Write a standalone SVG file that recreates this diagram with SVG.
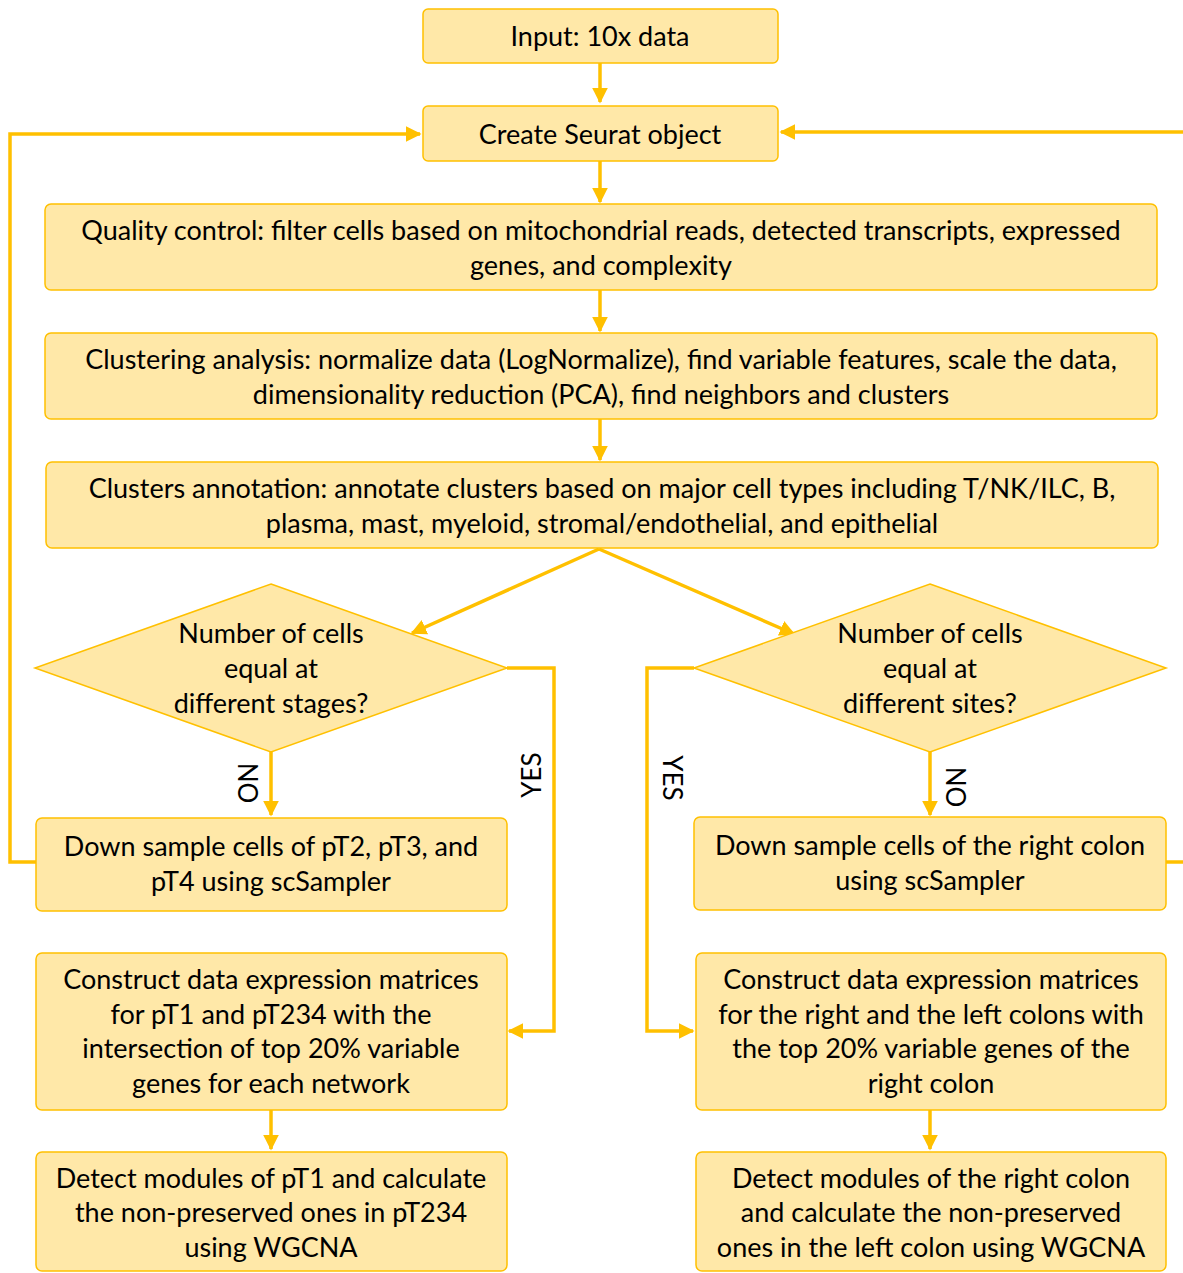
<svg xmlns="http://www.w3.org/2000/svg" width="1183" height="1273" viewBox="0 0 1183 1273">
<style>
.n{fill:#FFE8A8;stroke:#FFC000;stroke-width:1.5}
.t{font-family:Lato,"Open Sans",sans-serif;font-size:27px;fill:#000;text-anchor:middle}
.c{fill:none;stroke:#FFC000;stroke-width:3.5}
.l{font-family:Lato,"Open Sans",sans-serif;font-size:26px;fill:#000;text-anchor:middle}
</style>
<defs>
<marker id="a" viewBox="0 0 10 10" refX="9" refY="5" markerWidth="4.5" markerHeight="4.5" orient="auto" markerUnits="strokeWidth">
<path d="M0,0L10,5L0,10z" fill="#FFC000"/>
</marker>
</defs>
<rect width="1183" height="1273" fill="#fff"/>
<g id="connectors">
<path class="c" d="M600,63V102" marker-end="url(#a)"/>
<path class="c" d="M600,161V202" marker-end="url(#a)"/>
<path class="c" d="M600,290V331" marker-end="url(#a)"/>
<path class="c" d="M600,419V460" marker-end="url(#a)"/>
<path class="c" d="M599,549L412,633" marker-end="url(#a)"/>
<path class="c" d="M599,549L794,634" marker-end="url(#a)"/>
<path class="c" d="M271,752V815" marker-end="url(#a)"/>
<path class="c" d="M930,752V815" marker-end="url(#a)"/>
<path class="c" d="M36,862H10V134H420" marker-end="url(#a)"/>
<path class="c" d="M1166,862H1183"/>
<path class="c" d="M1183,132H781" marker-end="url(#a)"/>
<path class="c" d="M507,668H554V1031H509" marker-end="url(#a)"/>
<path class="c" d="M694,668H647V1031H693" marker-end="url(#a)"/>
<path class="c" d="M271,1110V1149" marker-end="url(#a)"/>
<path class="c" d="M930,1110V1149" marker-end="url(#a)"/>
<text class="l" transform="translate(247,783) rotate(90)" dy="9">NO</text>
<text class="l" transform="translate(532,775) rotate(-90)" dy="9">YES</text>
<text class="l" transform="translate(672,778) rotate(90)" dy="9">YES</text>
<text class="l" transform="translate(955,787) rotate(90)" dy="9">NO</text>
</g>
<g id="input"><rect class="n" x="423" y="9" width="355" height="54" rx="5"/><text class="t" x="600" y="46">Input: 10x data</text></g>
<g id="seurat"><rect class="n" x="423" y="106" width="355" height="55" rx="5"/><text class="t" x="600" y="144">Create Seurat object</text></g>
<g id="qc"><rect class="n" x="45" y="204" width="1112" height="86" rx="6"/><text class="t" x="601" y="240">Quality control: filter cells based on mitochondrial reads, detected transcripts, expressed</text><text class="t" x="601" y="275">genes, and complexity</text></g>
<g id="clustering"><rect class="n" x="45" y="333" width="1112" height="86" rx="6"/><text class="t" x="601" y="369">Clustering analysis: normalize data (LogNormalize), find variable features, scale the data,</text><text class="t" x="601" y="404">dimensionality reduction (PCA), find neighbors and clusters</text></g>
<g id="annotation"><rect class="n" x="46" y="462" width="1112" height="86" rx="6"/><text class="t" x="602" y="498">Clusters annotation: annotate clusters based on major cell types including T/NK/ILC, B,</text><text class="t" x="602" y="533">plasma, mast, myeloid, stromal/endothelial, and epithelial</text></g>
<g id="dec-stages"><path class="n" d="M271,584L507,668L271,752L35,668z"/><text class="t" x="271" y="643">Number of cells</text><text class="t" x="271" y="678">equal at</text><text class="t" x="271" y="713">different stages?</text></g>
<g id="dec-sites"><path class="n" d="M930,584L1166,668L930,752L694,668z"/><text class="t" x="930" y="643">Number of cells</text><text class="t" x="930" y="678">equal at</text><text class="t" x="930" y="713">different sites?</text></g>
<g id="down-left"><rect class="n" x="36" y="818" width="471" height="93" rx="6"/><text class="t" x="271" y="856">Down sample cells of pT2, pT3, and</text><text class="t" x="271" y="891">pT4 using scSampler</text></g>
<g id="down-right"><rect class="n" x="694" y="817" width="472" height="93" rx="6"/><text class="t" x="930" y="855">Down sample cells of the right colon</text><text class="t" x="930" y="890">using scSampler</text></g>
<g id="construct-left"><rect class="n" x="36" y="953" width="471" height="157" rx="6"/><text class="t" x="271" y="989">Construct data expression matrices</text><text class="t" x="271" y="1024">for pT1 and pT234 with the</text><text class="t" x="271" y="1058">intersection of top 20% variable</text><text class="t" x="271" y="1093">genes for each network</text></g>
<g id="construct-right"><rect class="n" x="696" y="953" width="470" height="157" rx="6"/><text class="t" x="931" y="989">Construct data expression matrices</text><text class="t" x="931" y="1024">for the right and the left colons with</text><text class="t" x="931" y="1058">the top 20% variable genes of the</text><text class="t" x="931" y="1093">right colon</text></g>
<g id="detect-left"><rect class="n" x="36" y="1152" width="471" height="119" rx="6"/><text class="t" x="271" y="1188">Detect modules of pT1 and calculate</text><text class="t" x="271" y="1222">the non-preserved ones in pT234</text><text class="t" x="271" y="1257">using WGCNA</text></g>
<g id="detect-right"><rect class="n" x="696" y="1152" width="470" height="119" rx="6"/><text class="t" x="931" y="1188">Detect modules of the right colon</text><text class="t" x="931" y="1222">and calculate the non-preserved</text><text class="t" x="931" y="1257">ones in the left colon using WGCNA</text></g>
</svg>
